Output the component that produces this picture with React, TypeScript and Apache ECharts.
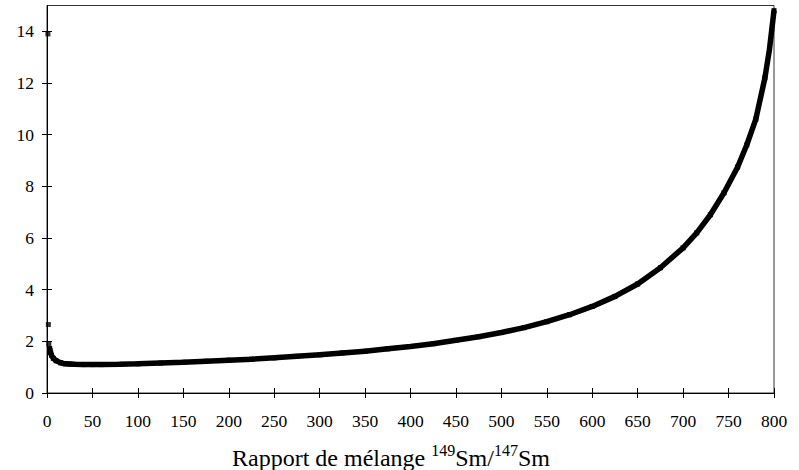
import React, { useEffect, useRef } from "react";
import * as echarts from "echarts";

// Isolated points near the origin
const isolatedX = [1, 1.5, 2];
const isolatedY = [13.9, 2.65, 1.9];

// Main curve
const curveX = [3, 4, 5, 7, 10, 15, 20, 25, 30, 40, 50, 60, 80, 100, 125, 150, 175, 200, 225, 250, 275, 300, 325, 350, 375, 400, 425, 450, 475, 500, 525, 550, 575, 600, 625, 650, 675, 700, 715, 730, 745, 760, 770, 780, 790, 795, 800];
const curveY = [1.72, 1.56, 1.46, 1.34, 1.25, 1.17, 1.13, 1.12, 1.11, 1.1, 1.1, 1.1, 1.11, 1.13, 1.16, 1.19, 1.23, 1.27, 1.31, 1.36, 1.42, 1.48, 1.55, 1.62, 1.71, 1.8, 1.91, 2.04, 2.18, 2.34, 2.53, 2.76, 3.03, 3.35, 3.74, 4.22, 4.85, 5.62, 6.2, 6.9, 7.75, 8.75, 9.6, 10.6, 12.2, 13.3, 14.8];

const xTicks = [0, 50, 100, 150, 200, 250, 300, 350, 400, 450, 500, 550, 600, 650, 700, 750, 800];
const yTicks = [0, 2, 4, 6, 8, 10, 12, 14];

const FONT = "Liberation Serif";

export default function App() {
  const ref = useRef<HTMLDivElement>(null);
  useEffect(() => {
    document.body.style.margin = "0";
    if (!ref.current) return;
    const chart = echarts.init(ref.current, null, { renderer: "svg" });
    const curve = curveX.map((x, i) => [x, curveY[i]]);
    const iso = isolatedX.map((x, i) => [x, isolatedY[i]]);
    const commonX = { type: "value", min: 0, max: 800, interval: 50 };
    const commonY = { type: "value", min: 0, max: 15, interval: 2 };
    chart.setOption({
      animation: false,
      backgroundColor: "#fff",
      textStyle: { fontFamily: FONT },
      grid: {
        left: 47,
        right: 25,
        top: 5.5,
        bottom: 77,
        show: true,
        borderColor: "#333",
        borderWidth: 1,
        backgroundColor: "transparent",
      },
      xAxis: [
        {
          ...commonX,
          position: "bottom",
          axisLine: { show: true, onZero: false, lineStyle: { color: "#000", width: 1 } },
          axisTick: { show: true, inside: false, length: 5, customValues: xTicks, lineStyle: { color: "#000" } },
          axisLabel: { color: "#000", fontFamily: FONT, fontSize: 17.5, margin: 19, customValues: xTicks },
          splitLine: { show: false },
        },
        {
          ...commonX,
          position: "bottom",
          axisLine: { show: false, onZero: false },
          axisTick: { show: true, inside: true, length: 5, customValues: xTicks, lineStyle: { color: "#000" } },
          axisLabel: { show: false },
          splitLine: { show: false },
        },
      ],
      yAxis: [
        {
          ...commonY,
          position: "left",
          axisLine: { show: true, onZero: false, lineStyle: { color: "#000", width: 1 } },
          axisTick: { show: true, inside: false, length: 5, customValues: yTicks, lineStyle: { color: "#000" } },
          axisLabel: { color: "#000", fontFamily: FONT, fontSize: 17.5, margin: 13, customValues: yTicks },
          splitLine: { show: false },
        },
        {
          ...commonY,
          position: "left",
          offset: 0,
          axisLine: { show: false, onZero: false },
          axisTick: { show: true, inside: true, length: 5, customValues: yTicks, lineStyle: { color: "#000" } },
          axisLabel: { show: false },
          splitLine: { show: false },
        },
      ],
      series: [
        {
          type: "line",
          data: curve,
          xAxisIndex: 0,
          yAxisIndex: 0,
          showSymbol: true,
          symbol: "rect",
          symbolSize: 5,
          itemStyle: { color: "#000" },
          lineStyle: { color: "#000", width: 5.5 },
          smooth: false,
          z: 3,
        },
        {
          type: "scatter",
          data: iso,
          xAxisIndex: 0,
          yAxisIndex: 0,
          symbol: "rect",
          symbolSize: 5,
          itemStyle: { color: "#000" },
          z: 4,
        },
      ],
      graphic: [
        {
          type: "text",
          left: 232,
          top: 442,
          style: {
            text: "{m|Rapport de mélange }{s|149}{m|Sm/}{s|147}{m|Sm}",
            fill: "#000",
            rich: {
              m: { fontFamily: FONT, fontSize: 24, lineHeight: 28, verticalAlign: "bottom", fill: "#000" },
              s: { fontFamily: FONT, fontSize: 16, lineHeight: 18, verticalAlign: "top", fill: "#000" },
            },
          },
        },
      ],
    });
    return () => chart.dispose();
  }, []);
  return <div ref={ref} style={{ width: 799, height: 470 }} />;
}
